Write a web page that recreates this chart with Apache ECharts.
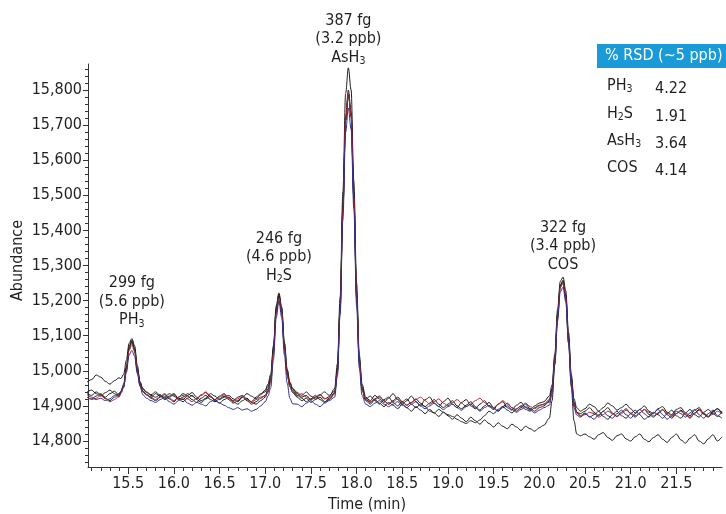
<!DOCTYPE html>
<html><head><meta charset="utf-8">
<script src="https://cdn.jsdelivr.net/npm/echarts@6/dist/echarts.min.js"></script>
<style>html,body{margin:0;padding:0;background:#fff}#c{width:726px;height:514px}</style>
</head><body><div id="c"></div>
<script>
// ---------------- data ----------------
const times = [
 15.05,15.10,15.15,15.20,15.25,15.30,15.35,15.40,
 15.42,15.45,15.48,15.51,15.54,15.57,15.60,15.63,15.66,15.70,
 15.75,15.80,15.85,15.90,15.95,16.00,16.05,16.10,16.15,16.20,16.25,16.30,16.35,16.40,16.45,16.50,16.55,16.60,16.65,16.70,16.75,16.80,16.85,16.90,16.95,17.00,
 17.03,17.06,17.09,17.12,17.15,17.18,17.21,17.24,17.27,17.30,
 17.35,17.40,17.45,17.50,17.55,17.60,17.65,17.70,
 17.76,17.79,17.82,17.85,17.88,17.91,17.94,17.97,18.00,18.03,18.06,
 18.10,18.15,18.20,18.25,18.30,18.35,18.40,18.45,18.50,18.55,18.60,18.65,18.70,18.75,18.80,18.85,18.90,18.95,19.00,19.05,19.10,19.15,19.20,19.25,19.30,19.35,19.40,19.45,19.50,19.55,19.60,19.65,19.70,19.75,19.80,19.85,19.90,19.95,20.00,20.05,
 20.11,20.14,20.17,20.20,20.23,20.26,20.29,20.32,20.35,20.38,20.41,
 20.45,20.50,20.55,20.60,20.65,20.70,20.75,20.80,20.85,20.90,20.95,21.00,21.05,21.10,21.15,21.20,21.25,21.30,21.35,21.40,21.45,21.50,21.55,21.60,21.65,21.70,21.75,21.80,21.85,21.90,21.95,22.00
];
const runBlack1 = [
 14968,14975,14988,14982,14970,14962,14972,14980,
 14978,14990,15030,15078,15092,15072,15015,14968,14948,14938,
 14930,14925,14932,14920,14928,14935,14922,14918,14930,14938,14925,14915,14922,14935,14928,14918,14925,14930,14920,14912,14925,14935,14928,14920,14932,14945,
 14962,14990,15072,15185,15222,15182,15080,15005,14965,14948,
 14935,14925,14930,14918,14925,14932,14920,14926,
 14950,15020,15210,15510,15790,15863,15800,15540,15250,15045,14962,
 14925,14915,14930,14920,14910,14922,14935,14918,14905,14915,14928,14912,14900,14918,14925,14908,14898,14912,14922,14905,14895,14910,14918,14900,14892,14905,14915,14898,14890,14905,14912,14895,14888,14902,14910,14895,14890,14900,14908,14912,
 14928,14960,15048,15175,15255,15267,15228,15110,14990,14920,14895,
 14885,14892,14905,14898,14885,14895,14908,14900,14888,14895,14905,14892,14880,14890,14900,14885,14878,14892,14898,14882,14875,14890,14895,14880,14872,14888,14895,14878,14870,14885,14892,14880
];
const runBlack2 = [
 14935,14930,14940,14932,14925,14935,14942,14930,
 14940,14958,15008,15066,15085,15060,15002,14962,14942,14932,
 14925,14935,14928,14918,14925,14932,14920,14912,14922,14930,14918,14910,14920,14928,14915,14908,14918,14925,14912,14905,14915,14922,14910,14905,14915,14925,
 14942,14972,15055,15170,15215,15170,15062,14990,14955,14938,
 14925,14915,14922,14910,14918,14925,14912,14918,
 14935,14998,15175,15455,15715,15790,15725,15490,15210,15022,14945,
 14915,14905,14918,14908,14898,14910,14902,14892,14905,14895,14885,14898,14888,14878,14890,14880,14870,14882,14872,14862,14875,14865,14855,14868,14858,14848,14860,14850,14840,14852,14842,14835,14848,14840,14830,14842,14835,14828,14838,14845,
 14865,14915,15020,15150,15238,15250,15205,15080,14955,14858,14820,
 14815,14820,14812,14805,14818,14824,14810,14802,14815,14820,14806,14800,14812,14820,14805,14798,14810,14818,14805,14796,14810,14820,14803,14794,14808,14818,14800,14792,14806,14818,14800,14812
];
const runBlack3 = [
 14925,14920,14928,14935,14922,14915,14925,14932,
 14942,14962,15012,15070,15088,15064,15008,14968,14950,14940,
 14932,14940,14930,14925,14935,14928,14918,14925,14935,14928,14920,14930,14938,14925,14918,14928,14935,14922,14915,14925,14930,14920,14912,14925,14935,14940,
 14956,14985,15066,15178,15218,15178,15078,15002,14968,14950,
 14938,14930,14940,14928,14920,14932,14940,14930,
 14942,15008,15188,15470,15725,15800,15738,15505,15225,15035,14955,
 14920,14928,14915,14905,14918,14925,14910,14900,14912,14920,14905,14895,14905,14898,14885,14880,14890,14882,14875,14870,14862,14855,14850,14858,14852,14860,14872,14885,14878,14890,14898,14888,14880,14892,14900,14890,14885,14895,14902,14905,
 14918,14950,15038,15162,15245,15255,15214,15098,14982,14910,14882,
 14872,14880,14868,14875,14885,14870,14862,14875,14885,14872,14865,14878,14888,14875,14862,14870,14882,14875,14865,14878,14888,14872,14865,14880,14890,14875,14868,14882,14890,14878,14870,14885
];
const runBlack4 = [
 14940,14945,14935,14928,14938,14945,14935,14925,
 14938,14955,15004,15062,15082,15058,15000,14960,14942,14932,
 14922,14915,14925,14932,14920,14912,14925,14935,14928,14918,14910,14922,14930,14918,14912,14920,14928,14918,14908,14915,14925,14915,14905,14912,14922,14930,
 14948,14976,15058,15170,15212,15168,15066,14992,14958,14944,
 14930,14922,14912,14920,14930,14918,14910,14922,
 14938,15000,15180,15460,15712,15785,15725,15495,15215,15028,14950,
 14918,14910,14920,14928,14915,14905,14915,14925,14912,14902,14910,14920,14908,14898,14908,14918,14905,14895,14905,14915,14900,14892,14902,14912,14898,14888,14900,14910,14895,14885,14898,14908,14895,14885,14895,14905,14892,14885,14895,14900,
 14914,14946,15032,15158,15242,15258,15212,15092,14976,14908,14882,
 14878,14885,14895,14882,14872,14885,14895,14880,14870,14882,14892,14878,14868,14880,14890,14876,14868,14880,14890,14875,14865,14878,14888,14875,14865,14880,14890,14876,14868,14882,14892,14878
];
const runRed = [
 14925,14918,14922,14930,14920,14912,14918,14928,
 14935,14952,15000,15058,15075,15055,14998,14958,14940,14932,
 14925,14918,14928,14935,14922,14915,14925,14930,14920,14912,14922,14932,14940,14928,14918,14925,14932,14922,14915,14920,14928,14918,14910,14918,14925,14928,
 14938,14966,15050,15162,15208,15165,15064,14988,14955,14940,
 14928,14935,14925,14918,14925,14932,14922,14918,
 14935,14995,15175,15455,15715,15790,15728,15492,15212,15025,14945,
 14920,14912,14918,14925,14915,14905,14912,14920,14910,14902,14910,14918,14925,14915,14905,14912,14920,14908,14900,14910,14918,14908,14898,14905,14915,14922,14910,14900,14895,14905,14915,14905,14895,14890,14900,14908,14898,14892,14900,14905,
 14910,14942,15028,15154,15238,15252,15208,15088,14972,14905,14880,
 14870,14875,14882,14878,14868,14875,14885,14878,14870,14878,14888,14880,14872,14880,14890,14882,14872,14878,14888,14880,14870,14878,14885,14875,14868,14878,14888,14880,14870,14876,14885,14878
];
const runBlue = [
 14932,14925,14918,14922,14915,14920,14930,14935,
 14942,14955,14995,15045,15058,15042,14992,14955,14932,14922,
 14915,14910,14918,14925,14912,14905,14915,14920,14908,14902,14910,14905,14900,14912,14918,14908,14902,14895,14890,14895,14888,14892,14885,14890,14900,14912,
 14928,14952,15032,15150,15198,15152,15045,14965,14922,14906,
 14905,14898,14908,14915,14905,14898,14908,14915,
 14925,14985,15160,15430,15680,15748,15688,15460,15185,15008,14930,
 14905,14898,14908,14915,14905,14898,14905,14912,14902,14895,14905,14912,14900,14892,14900,14908,14898,14890,14898,14905,14895,14888,14898,14905,14895,14885,14895,14902,14892,14885,14895,14900,14890,14882,14890,14898,14888,14880,14888,14895,
 14902,14934,15018,15142,15225,15238,15196,15078,14962,14895,14874,
 14868,14878,14870,14862,14875,14885,14872,14865,14878,14888,14875,14865,14878,14890,14878,14868,14880,14890,14875,14862,14872,14885,14878,14868,14880,14890,14875,14865,14878,14888,14872,14865
];
const xTickValues = [15.5,16.0,16.5,17.0,17.5,18.0,18.5,19.0,19.5,20.0,20.5,21.0,21.5];
const xTickLabels = ['15.5','16.0','16.5','17.0','17.5','18.0','18.5','19.0','19.5','20.0','20.5','21.0','21.5'];
const yTickValues = [14800,14900,15000,15100,15200,15300,15400,15500,15600,15700,15800];
const yTickLabels = ['14,800','14,900','15,000','15,100','15,200','15,300','15,400','15,500','15,600','15,700','15,800'];
const peakNames = ['PH3','H2S','AsH3','COS'];
const peakTimes = [15.54,17.15,17.91,20.26];
const peakMass = ['299 fg','246 fg','387 fg','322 fg'];
const peakConc = ['(5.6 ppb)','(4.6 ppb)','(3.2 ppb)','(3.4 ppb)'];
const rsdNames = ['PH3','H2S','AsH3','COS'];
const rsdValues = ['4.22','1.91','3.64','4.14'];

// ---------------- chart ----------------
const FONT = "'Liberation Sans Narrow','Arial Narrow','DejaVu Sans Condensed',sans-serif";
const TXT = '#231f20';
const FS = 16;
const xMin = 15.06, xMax = 22.0, yMin = 14726, yMax = 15874;
const xMinor = []; for (let v = 151; v <= 220; v++) if (v % 5) xMinor.push(v / 10);
const yMinor = []; for (let v = 14740; v <= 15860; v += 20) if (v % 100) yMinor.push(v);

const runs = [
  {d: runBlack1, c: '#1e1e1e'}, {d: runBlack2, c: '#1e1e1e'},
  {d: runBlack3, c: '#2a2a2a'}, {d: runBlack4, c: '#1e1e1e'},
  {d: runRed, c: '#b3272d'}, {d: runBlue, c: '#2e3192'}
];

const chart = echarts.init(document.getElementById('c'), null, {renderer: 'canvas'});
const axisCol = '#333';
chart.setOption({
  animation: false,
  grid: {left: 88, right: 4, top: 64, bottom: 47, containLabel: false, outerBoundsMode: 'none'},
  xAxis: [{
    type: 'value', min: xMin, max: xMax, position: 'bottom',
    name: 'Time (min)', nameLocation: 'middle', nameGap: 29,
    nameTextStyle: {fontFamily: FONT, fontSize: FS, color: TXT, padding: [0, 76, 0, 0]},
    axisLine: {lineStyle: {color: axisCol, width: 1}},
    axisTick: {customValues: xTickValues, length: 7, lineStyle: {color: axisCol}},
    axisLabel: {customValues: xTickValues, margin: 9, fontFamily: FONT, fontSize: FS, color: TXT,
      formatter: v => xTickLabels[xTickValues.findIndex(t => Math.abs(t - v) < 1e-6)] || ''},
    splitLine: {show: false}
  }, {
    type: 'value', min: xMin, max: xMax, position: 'bottom',
    axisLine: {show: false},
    axisTick: {customValues: xMinor, length: 4, lineStyle: {color: axisCol}},
    axisLabel: {show: false}, splitLine: {show: false}
  }],
  yAxis: [{
    type: 'value', min: yMin, max: yMax, position: 'left',
    name: 'Abundance', nameLocation: 'middle', nameGap: 62, nameRotate: 90, nameMoveOverlap: false,
    nameTextStyle: {fontFamily: FONT, fontSize: FS, color: TXT, padding: [0, 0, 0, 10]},
    axisLine: {show: true, lineStyle: {color: axisCol, width: 1}},
    axisTick: {show: true, customValues: yTickValues, length: 5, lineStyle: {color: axisCol}},
    axisLabel: {customValues: yTickValues, margin: 6, fontFamily: FONT, fontSize: FS, color: TXT,
      formatter: v => yTickLabels[yTickValues.indexOf(Math.round(v))] || ''},
    splitLine: {show: false}
  }, {
    type: 'value', min: yMin, max: yMax, position: 'left',
    axisLine: {show: false},
    axisTick: {show: true, customValues: yMinor, length: 3, lineStyle: {color: axisCol}},
    axisLabel: {show: false}, splitLine: {show: false}
  }],
  series: runs.map(r => ({
    type: 'line', xAxisIndex: 0, yAxisIndex: 0,
    data: times.map((t, i) => [t, r.d[i]]),
    showSymbol: false, symbol: 'none', smooth: 0.35, smoothMonotone: 'x',
    lineStyle: {color: r.c, width: 1}, itemStyle: {color: r.c},
    clip: true, silent: true
  }))
});

function chem(name, base, sub) {
  return name.replace(/([A-Za-z])(\d)/g, '$1}{' + sub + '|$2}{' + base + '|').replace(/^/, '{' + base + '|') + '}';
}
const richStyles = {
  a: {fontFamily: FONT, fontSize: FS, lineHeight: 18.5, fill: TXT},
  s: {fontFamily: FONT, fontSize: 10.5, lineHeight: 8, verticalAlign: 'bottom', fill: TXT}
};
const labelLift = [9, 8, 1, 3];
const graphics = [];
peakTimes.forEach((t, k) => {
  let top = -Infinity;
  runs.forEach(r => times.forEach((tt, i) => { if (Math.abs(tt - t) < 0.05) top = Math.max(top, r.d[i]); }));
  const p = chart.convertToPixel({gridIndex: 0}, [t, top]);
  graphics.push({
    type: 'text', x: p[0], y: p[1] - labelLift[k], silent: true,
    style: {
      text: '{a|' + peakMass[k] + '}\n{a|' + peakConc[k] + '}\n' + chem(peakNames[k], 'a', 's').replace(/\{a\|\}/g, ''),
      rich: richStyles, align: 'center', verticalAlign: 'bottom', fill: TXT
    }
  });
});
// RSD box
graphics.push({type: 'rect', shape: {x: 597, y: 44, width: 129, height: 24}, style: {fill: '#1a9bd7'}, silent: true});
graphics.push({type: 'text', x: 605, y: 56, silent: true,
  style: {text: '% RSD (~5 ppb)', fill: '#ffffff', fontFamily: FONT, fontSize: FS, verticalAlign: 'middle', align: 'left'}});
const rowY = [86, 114, 141, 168];
rsdNames.forEach((n, k) => {
  graphics.push({type: 'text', x: 607, y: rowY[k] + 9, silent: true,
    style: {text: chem(n, 'a', 's').replace(/\{a\|\}/g, ''), rich: richStyles, align: 'left', verticalAlign: 'bottom', fill: TXT}});
  graphics.push({type: 'text', x: 655, y: rowY[k] + 3, silent: true,
    style: {text: rsdValues[k], fill: TXT, fontFamily: FONT, fontSize: FS, verticalAlign: 'middle', align: 'left'}});
});
chart.setOption({graphic: graphics});
</script></body></html>
